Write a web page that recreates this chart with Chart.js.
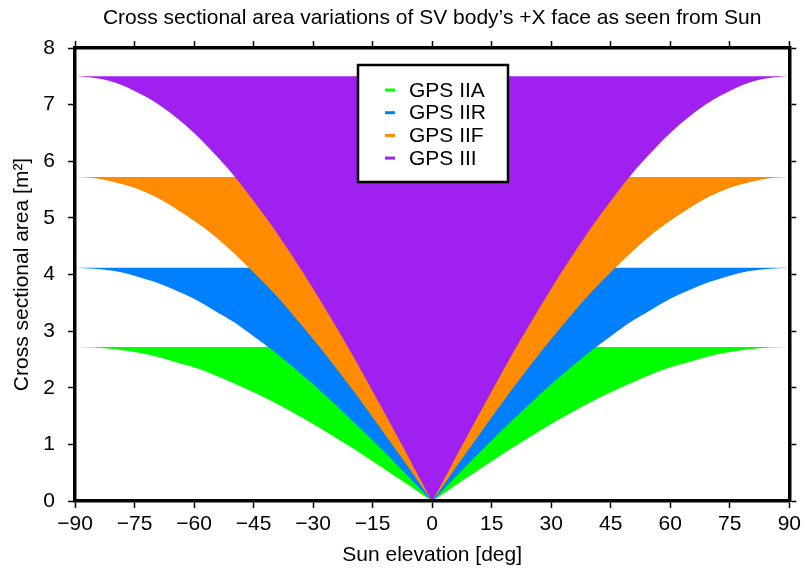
<!DOCTYPE html>
<html>
<head>
<meta charset="utf-8">
<script src="https://cdn.jsdelivr.net/npm/chart.js@4"></script>
<style>
  html, body { margin: 0; padding: 0; background: #fff; }
  #wrap { width: 805px; height: 571px; }
</style>
</head>
<body>
<div id="wrap"><canvas id="areaChart" width="805" height="571"></canvas></div>
<script>
// Sun elevation (deg), 0..90, the curves are symmetric about 0
var elevHalf = [0, 5, 10, 15, 20, 25, 30, 35, 40, 45, 50, 55, 60, 65, 70, 75, 80, 85, 90];

// Lower edge of each band (m^2)
var gps2a = [0, 0.24, 0.47, 0.70, 0.93, 1.15, 1.36, 1.56, 1.75, 1.92, 2.08, 2.23, 2.36, 2.46, 2.56, 2.63, 2.68, 2.71, 2.72];
var gps2r = [0, 0.36, 0.72, 1.07, 1.41, 1.74, 2.06, 2.36, 2.65, 2.91, 3.16, 3.37, 3.57, 3.73, 3.87, 3.98, 4.06, 4.10, 4.12];
var gps2f = [0, 0.50, 0.99, 1.48, 1.96, 2.42, 2.86, 3.28, 3.68, 4.04, 4.38, 4.69, 4.95, 5.18, 5.38, 5.53, 5.63, 5.70, 5.72];
var gps3  = [0, 0.65, 1.30, 1.94, 2.57, 3.17, 3.75, 4.30, 4.82, 5.30, 5.75, 6.14, 6.50, 6.80, 7.05, 7.24, 7.39, 7.47, 7.50];

// Top of each band (maximum area)
var seriesNames = ['GPS IIA', 'GPS IIR', 'GPS IIF', 'GPS III'];
var seriesMax = [2.72, 4.12, 5.72, 7.50];
var seriesColors = ['#00ff00', '#0080ff', '#ff8c00', '#a020f0'];

var xTicks = [-90, -75, -60, -45, -30, -15, 0, 15, 30, 45, 60, 75, 90];
var yTicks = [0, 1, 2, 3, 4, 5, 6, 7, 8];

var TITLE = 'Cross sectional area variations of SV body\u2019s +X face as seen from Sun';
var FONT = "'Liberation Sans', Arial, Helvetica, sans-serif";
var FS = 21;

// one side of the curve, sign -1 = negative elevations
function side(half, sign) {
    return half.map(function (v, i) { return { x: sign * elevHalf[i], y: v }; });
}
// just the tip around 0 (-5, 0, 5)
function tip(half) {
    return [{ x: -elevHalf[1], y: half[1] }, { x: 0, y: half[0] }, { x: elevHalf[1], y: half[1] }];
}

// each band: smooth left + right halves (sharp V at 0), plus a small
// straight tip piece under them that hides the seam at 0
var curves = [gps2a, gps2r, gps2f, gps3];
var datasets = [];
curves.forEach(function (c, i) {
    var base = {
        label: seriesNames[i],
        backgroundColor: seriesColors[i],
        borderColor: seriesColors[i],
        borderWidth: 0,
        pointRadius: 0,
        fill: { value: seriesMax[i] }
    };
    datasets.push(Object.assign({}, base, { data: tip(c), tension: 0, order: 4 - i + 0.5 }));
    [-1, 1].forEach(function (sign) {
        datasets.push(Object.assign({}, base, { data: side(c, sign), cubicInterpolationMode: 'monotone', order: 4 - i }));
    });
});

function minusSign(v) {
    return String(v).replace('-', '\u2212');
}

// title centred over the plot, legend box inside the plot
var decor = {
    id: 'decor',
    afterDraw: function (chart) {
        var ctx = chart.ctx;
        var area = chart.chartArea;
        ctx.save();
        ctx.fillStyle = '#000';
        ctx.font = FS + 'px ' + FONT;
        ctx.textAlign = 'center';
        ctx.textBaseline = 'middle';
        ctx.fillText(TITLE, (area.left + area.right) / 2, 18);

        var x0 = 358, y0 = 65, w = 150, h = 117;
        ctx.fillStyle = '#fff';
        ctx.fillRect(x0, y0, w, h);
        ctx.lineWidth = 2.5;
        ctx.strokeStyle = '#000';
        ctx.strokeRect(x0, y0, w, h);
        ctx.textAlign = 'left';
        for (var i = 0; i < seriesNames.length; i++) {
            var yy = 90 + i * 22.7;
            ctx.fillStyle = seriesColors[i];
            ctx.fillRect(385, yy - 1.5, 10, 3);
            ctx.fillStyle = '#000';
            ctx.fillText(seriesNames[i], 409, yy + 1);
        }
        ctx.restore();
    }
};

function fixW(w) { return function (s) { s.width = w; }; }
function fixH(h) { return function (s) { s.height = h; }; }
function setTicks(list) {
    return function (s) { s.ticks = list.map(function (v) { return { value: v }; }); };
}

var tickGrid = { drawOnChartArea: false, drawTicks: true, tickLength: 7, tickWidth: 1.5, tickColor: '#000' };
var frame = { display: true, width: 3.5, color: '#000', z: 1 };

new Chart(document.getElementById('areaChart').getContext('2d'), {
    type: 'line',
    data: { datasets: datasets },
    plugins: [decor],
    options: {
        responsive: false,
        animation: false,
        layout: { padding: 0 },
        plugins: {
            legend: { display: false },
            tooltip: { enabled: false },
            title: { display: false },
            filler: { propagate: false }
        },
        scales: {
            x: {
                type: 'linear', position: 'bottom', min: -90, max: 90,
                afterBuildTicks: setTicks(xTicks),
                ticks: { color: '#000', font: { family: FONT, size: FS }, padding: 4, maxRotation: 0, autoSkip: false, callback: minusSign },
                grid: tickGrid, border: frame,
                title: { display: true, text: 'Sun elevation [deg]', color: '#000', font: { family: FONT, size: FS }, padding: { top: 0, bottom: 3 } },
                afterFit: fixH(70)
            },
            x2: {
                type: 'linear', position: 'top', min: -90, max: 90,
                afterBuildTicks: setTicks(xTicks),
                ticks: { display: false },
                grid: tickGrid, border: frame,
                afterFit: fixH(48)
            },
            y: {
                type: 'linear', position: 'left', min: 0, max: 8,
                afterBuildTicks: setTicks(yTicks),
                ticks: { color: '#000', font: { family: FONT, size: FS }, padding: 13 },
                grid: tickGrid, border: frame,
                title: { display: true, text: 'Cross sectional area [m\u00b2]', color: '#000', font: { family: FONT, size: FS }, padding: { top: 10, bottom: 0 } },
                afterFit: fixW(75)
            },
            y2: {
                type: 'linear', position: 'right', min: 0, max: 8,
                afterBuildTicks: setTicks(yTicks),
                ticks: { display: false },
                grid: tickGrid, border: frame,
                afterFit: fixW(12)
            }
        }
    }
});
</script>
</body>
</html>
